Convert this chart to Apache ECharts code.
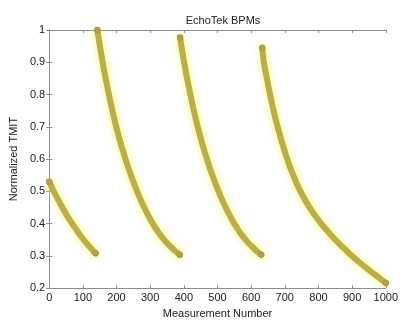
<!DOCTYPE html>
<html>
<head>
<meta charset="utf-8">
<script src="https://cdn.jsdelivr.net/npm/echarts@6/dist/echarts.min.js"></script>
<style>
html,body{margin:0;padding:0;background:#fff;}
#chart{width:401px;height:324px;}
</style>
</head>
<body>
<div id="chart"></div>
<script>
// Segment 1
const seg1X = [0,10,20,30,40,50,60,70,80,90,100,110,120,130,138];
const seg1Y = [0.530,0.508,0.487,0.467,0.448,0.430,0.413,0.397,0.382,0.367,0.353,0.340,0.328,0.316,0.308];
// Segment 2
const seg2X = [143,150,160,170,180,190,200,210,220,230,240,250,260,270,280,290,300,310,320,330,340,350,360,370,380,388];
const seg2Y = [1.000,0.955,0.893,0.838,0.787,0.740,0.697,0.658,0.622,0.589,0.558,0.530,0.503,0.478,0.455,0.434,0.414,0.396,0.380,0.365,0.352,0.340,0.329,0.319,0.310,0.303];
// Segment 3
const seg3X = [389,392,402,412,422,432,442,452,462,472,482,492,502,512,522,532,542,552,562,572,582,592,602,612,622,630];
const seg3Y = [0.977,0.955,0.893,0.838,0.787,0.740,0.697,0.658,0.622,0.589,0.558,0.530,0.503,0.478,0.455,0.434,0.414,0.396,0.380,0.365,0.352,0.340,0.329,0.319,0.310,0.303];
// Segment 4
const seg4X = [633,637,645,655,665,675,685,695,705,715,725,735,745,755,765,775,785,795,805,820,835,850,865,880,895,910,925,940,955,970,985,1000];
const seg4Y = [0.945,0.905,0.860,0.806,0.758,0.715,0.676,0.640,0.607,0.577,0.550,0.525,0.503,0.483,0.465,0.448,0.432,0.418,0.404,0.385,0.367,0.350,0.334,0.319,0.304,0.290,0.277,0.264,0.252,0.240,0.228,0.216];

const xTicks = [0,100,200,300,400,500,600,700,800,900,1000];
const yTicks = [0.2,0.3,0.4,0.5,0.6,0.7,0.8,0.9,1];

function pairs(xs, ys){ return xs.map((x,i)=>[x, ys[i]]); }

const chart = echarts.init(document.getElementById('chart'), null, {renderer:'canvas'});
const axisCol = '#8c8c8c';
const txtCol = '#222';
const font = 'Liberation Sans, Arial, sans-serif';

function seg(data){
  return {
    type:'line', xAxisIndex:0, yAxisIndex:0,
    data:data, smooth:0.4, showSymbol:false, symbol:'none',
    lineStyle:{width:6, color:'#b9ad4c', cap:'round', join:'round',
      shadowColor:'rgba(248,245,90,0.95)', shadowBlur:7},
    z:3
  };
}
function segDots(data){
  return {
    type:'scatter', xAxisIndex:0, yAxisIndex:0,
    data:[data[0], data[data.length-1]], symbolSize:6,
    itemStyle:{color:'#ad9f48', borderColor:'#a0705a', borderWidth:0.5}, z:4
  };
}

chart.setOption({
  animation:false,
  backgroundColor:'#fff',
  title:{text:'EchoTek BPMs', left:218, top:10, textAlign:'center',
    textStyle:{fontFamily:font, fontSize:11, fontWeight:'normal', color:txtCol}},
  grid:{left:48, right:13, top:30, bottom:26, containLabel:false},
  xAxis:[{
    type:'value', min:0, max:1000, interval:100, position:'bottom',
    name:'Measurement Number', nameLocation:'middle', nameGap:16,
    nameTextStyle:{fontFamily:font, fontSize:11, color:txtCol},
    axisLine:{lineStyle:{color:axisCol}},
    axisTick:{inside:true, length:3, lineStyle:{color:axisCol}},
    axisLabel:{margin:4, fontFamily:font, fontSize:11, color:txtCol,
      formatter:function(v){ return String(v); }},
    splitLine:{show:false}
  },{
    type:'value', min:0, max:1000, interval:100, position:'top',
    axisLine:{lineStyle:{color:axisCol}},
    axisTick:{inside:true, length:3, lineStyle:{color:axisCol}},
    axisLabel:{show:false}, splitLine:{show:false}
  }],
  yAxis:[{
    type:'value', min:0.2, max:1, interval:0.1, position:'left',
    name:'Normalized TMIT', nameLocation:'middle', nameGap:28, nameRotate:90,
    nameTextStyle:{fontFamily:font, fontSize:11, color:txtCol},
    axisLine:{lineStyle:{color:axisCol}},
    axisTick:{inside:true, length:3, lineStyle:{color:axisCol}},
    axisLabel:{margin:4, fontFamily:font, fontSize:11, color:txtCol,
      formatter:function(v){ return String(Math.round(v*10)/10); }},
    splitLine:{show:false}
  },{
    type:'value', min:0.2, max:1, interval:0.1, position:'right',
    axisLine:{lineStyle:{color:axisCol}},
    axisTick:{inside:true, length:3, lineStyle:{color:axisCol}},
    axisLabel:{show:false}, splitLine:{show:false}
  }],
  series:[
    seg(pairs(seg1X, seg1Y)),
    seg(pairs(seg2X, seg2Y)),
    seg(pairs(seg3X, seg3Y)),
    seg(pairs(seg4X, seg4Y)),
    segDots(pairs(seg1X, seg1Y)),
    segDots(pairs(seg2X, seg2Y)),
    segDots(pairs(seg3X, seg3Y)),
    segDots(pairs(seg4X, seg4Y))
  ]
});
</script>
</body>
</html>
